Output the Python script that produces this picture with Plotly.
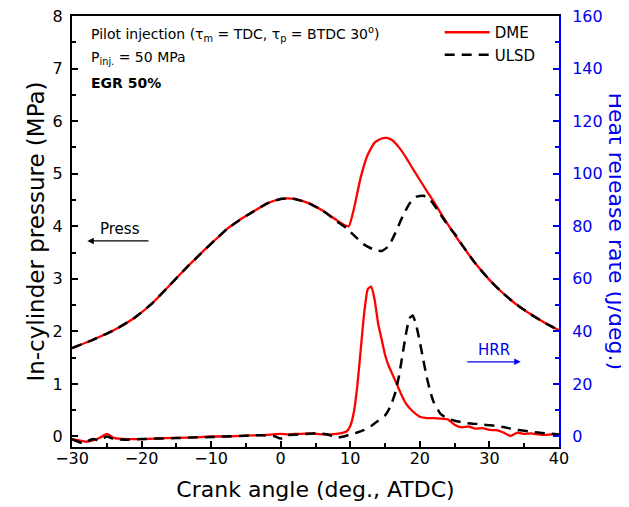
import plotly.graph_objects as go

# ---------------- data ----------------
# In-cylinder pressure (MPa)
p_dme_x = [-30, -27, -24, -21, -18.5, -16.3, -14, -11.5, -9.5, -7.7, -6, -4.3, -2, 0, 1, 2, 4, 6, 8, 9.2, 9.8,
           10.5, 11.5, 12.5, 13.5, 14.5, 15.2, 16, 17, 18, 19, 20, 21, 22, 23, 24, 25, 26, 28, 30, 32, 34, 36, 38, 40]
p_dme_y = [1.68, 1.84, 2.02, 2.26, 2.53, 2.83, 3.15, 3.48, 3.73, 3.95, 4.11, 4.25, 4.43, 4.52, 4.53, 4.52, 4.44, 4.30, 4.12, 4.02, 4.00,
           4.32, 4.93, 5.36, 5.59, 5.67, 5.68, 5.64, 5.50, 5.31, 5.09, 4.88, 4.67, 4.47, 4.25, 4.04, 3.84, 3.65, 3.29, 2.98, 2.72, 2.50, 2.32, 2.16, 2.02]

p_ulsd_x = [-30, -27, -24, -21, -18.5, -16.3, -14, -11.5, -9.5, -7.7, -6, -4.3, -2, 0, 1, 2, 4, 6, 8, 9.5,
            10.5, 12, 13.5, 14.5, 15.5, 16.5, 17.5, 18.5, 19.5, 20.5, 21.5, 22.5, 23.5, 24.5, 25.5, 26, 28, 30, 32, 34, 36, 38, 40]
p_ulsd_y = [1.68, 1.84, 2.02, 2.26, 2.53, 2.83, 3.15, 3.48, 3.73, 3.95, 4.11, 4.25, 4.43, 4.52, 4.53, 4.52, 4.44, 4.30, 4.10, 3.96,
            3.83, 3.65, 3.55, 3.53, 3.62, 3.88, 4.18, 4.43, 4.56, 4.58, 4.50, 4.32, 4.12, 3.94, 3.77, 3.66, 3.29, 2.98, 2.72, 2.50, 2.32, 2.16, 2.02]

# Heat release rate (J/deg.)
h_dme_x = [-30, -29, -28, -27, -26, -25, -24, -22, -20, -18, -15, -12, -10, -8, -5, -3, -1, 0, 1, 2, 3, 4, 5, 6, 7, 8, 9,
           9.5, 10, 10.5, 11, 11.5, 12, 12.5, 13, 13.5, 14, 14.5, 15, 15.5, 16, 16.5, 17, 17.5, 18, 19, 20, 21, 22, 23, 24,
           25, 26, 27, 28, 29, 30, 31, 32, 33, 34, 35, 36, 37, 38, 39, 40]
h_dme_y = [-1, -1.5, -2, -1.5, -0.5, 1, -0.5, -1, -1, -0.8, -0.5, -0.3, 0, 0, 0.3, 0.5, 0.8, 1, 0.8, 1, 1, 1.2, 1, 0.8, 0.8, 1, 1.5,
           2, 4, 9, 19, 33, 47, 56, 57, 52, 43, 37, 31, 27, 24, 21, 18, 15, 12.5, 9.5, 7.5, 7, 7, 6.8, 6.5,
           4.5, 3.5, 3.8, 3, 3.2, 2.5, 2.4, 1.5, 0.2, 1.5, 1, 1.2, 0.8, 0.6, 0.8, 0.5]

h_ulsd_x = [-30, -28.5, -27, -26, -25, -24, -22, -20, -18, -15, -12, -10, -8, -5, -3, -1, 0, 1, 3, 5, 6, 7, 8, 9, 10, 11,
            12, 13, 14, 15, 15.5, 16, 16.5, 17, 17.5, 18, 18.5, 19, 19.5, 20, 20.5, 21, 21.5, 22, 23, 24, 25, 26, 27, 28,
            29, 30, 31, 32, 33, 34, 35, 36, 37, 38, 39, 40]
h_ulsd_y = [-1, -2.5, -1, -1.5, 0, -1, -1.2, -1, -0.8, -0.6, -0.3, -0.2, 0, 0.3, 0.5, 0.2, -0.8, 0.5, 0.8, 1.2, 1, 0.5, -0.5, 0, 0.8, 1.5,
            2.5, 4, 6, 8, 10, 13, 17, 23, 31, 39, 45, 46, 42, 36, 29, 22.5, 17, 13, 8.5, 6.8, 6, 5.4, 5, 4.8,
            4.5, 4.3, 4, 3.6, 3, 2.5, 2.2, 1.8, 1.5, 1.2, 1, 0.8]

x_ticks = [-30, -20, -10, 0, 10, 20, 30, 40]
y_ticks = [0, 1, 2, 3, 4, 5, 6, 7, 8]
y2_ticks = [0, 20, 40, 60, 80, 100, 120, 140, 160]

FONT = "DejaVu Sans"
RED = "#ff0000"
BLUE = "#0000ee"

fig = go.Figure()
fig.add_trace(go.Scatter(x=p_dme_x, y=p_dme_y, mode="lines", name="DME",
                         line=dict(color=RED, width=2.3, shape="spline", smoothing=0.5)))
fig.add_trace(go.Scatter(x=p_ulsd_x, y=p_ulsd_y, mode="lines", name="ULSD",
                         line=dict(color="black", width=2.5, dash="10px,7px", shape="spline", smoothing=0.5)))
fig.add_trace(go.Scatter(x=h_dme_x, y=h_dme_y, mode="lines", name="DME", showlegend=False, yaxis="y2",
                         line=dict(color=RED, width=2.3, shape="spline", smoothing=0.4)))
fig.add_trace(go.Scatter(x=h_ulsd_x, y=h_ulsd_y, mode="lines", name="ULSD", showlegend=False, yaxis="y2",
                         line=dict(color="black", width=2.5, dash="10px,7px", shape="spline", smoothing=0.4)))

annotations = [
    dict(text="Pilot injection (τ<sub>m</sub> = TDC, τ<sub>p</sub> = BTDC 30<sup>o</sup>)", xref="paper", yref="paper",
         x=0.035, y=0.958, xanchor="left", yanchor="middle", showarrow=False, font=dict(family=FONT, size=14, color="black")),
    dict(text="P<sub>inj.</sub> = 50 MPa", xref="paper", yref="paper",
         x=0.035, y=0.903, xanchor="left", yanchor="middle", showarrow=False, font=dict(family=FONT, size=14, color="black")),
    dict(text="<b>EGR 50%</b>", xref="paper", yref="paper",
         x=0.035, y=0.845, xanchor="left", yanchor="middle", showarrow=False, font=dict(family=FONT, size=14, color="black")),
    dict(text="Press", x=-23.1, y=3.95, xref="x", yref="y", showarrow=False,
         font=dict(family=FONT, size=15, color="black")),
    dict(text="", x=-27.8, y=3.72, ax=-18.8, ay=3.72, xref="x", yref="y", axref="x", ayref="y",
         showarrow=True, arrowhead=2, arrowsize=1, arrowwidth=1.3, arrowcolor="black"),
    dict(text="HRR", x=30.7, y=33, xref="x", yref="y2", showarrow=False,
         font=dict(family=FONT, size=15, color=BLUE)),
    dict(text="", x=34.5, y=28.4, ax=26.6, ay=28.4, xref="x", yref="y2", axref="x", ayref="y2",
         showarrow=True, arrowhead=2, arrowsize=1, arrowwidth=1.3, arrowcolor=BLUE),
    dict(text="Heat release rate (J/deg.)", xref="paper", yref="paper", x=1, y=0.5, xshift=57,
         textangle=90, showarrow=False, xanchor="center", yanchor="middle",
         font=dict(family=FONT, size=22, color=BLUE)),
]

fig.update_layout(
    width=629, height=507,
    margin=dict(l=64, r=78, t=8, b=68, autoexpand=False),
    paper_bgcolor="white", plot_bgcolor="white",
    font=dict(family=FONT, size=16, color="black"),
    showlegend=True,
    legend=dict(x=0.755, y=1.0, xanchor="left", yanchor="top", bgcolor="rgba(0,0,0,0)",
                font=dict(family=FONT, size=15), tracegroupgap=4, itemwidth=45),
    xaxis=dict(range=[-30, 40], tickvals=x_ticks, ticks="inside", ticklen=6, tickwidth=2, tickcolor="black",
               showline=True, linecolor="black", linewidth=2, mirror=True, showgrid=False, zeroline=False,
               ticklabelstandoff=-4, ticklabeloverflow="allow",
               minor=dict(ticks="inside", ticklen=4, tickwidth=2, tickcolor="black", dtick=5, showgrid=False),
               title=dict(text="Crank angle (deg., ATDC)", font=dict(family=FONT, size=22), standoff=14),
               tickfont=dict(family=FONT, size=16)),
    yaxis=dict(range=[-0.2, 8], tickvals=y_ticks, ticks="inside", ticklen=6, tickwidth=2, tickcolor="black",
               showline=True, linecolor="black", linewidth=2, showgrid=False, zeroline=False,
               ticklabelstandoff=4, ticklabeloverflow="allow",
               minor=dict(ticks="inside", ticklen=4, tickwidth=2, tickcolor="black", dtick=0.5, showgrid=False),
               title=dict(text="In-cylinder pressure (MPa)", font=dict(family=FONT, size=23), standoff=2),
               tickfont=dict(family=FONT, size=16)),
    yaxis2=dict(range=[-4, 160], tickvals=y2_ticks, overlaying="y", side="right",
                ticks="inside", ticklen=6, tickwidth=2, tickcolor=BLUE,
                showline=True, linecolor=BLUE, linewidth=2, showgrid=False, zeroline=False,
                ticklabelstandoff=8, ticklabeloverflow="allow",
                minor=dict(ticks="inside", ticklen=4, tickwidth=2, tickcolor=BLUE, dtick=10, showgrid=False),
                tickfont=dict(family=FONT, size=16, color=BLUE)),
    annotations=annotations,
)

fig.write_html("out.html")
